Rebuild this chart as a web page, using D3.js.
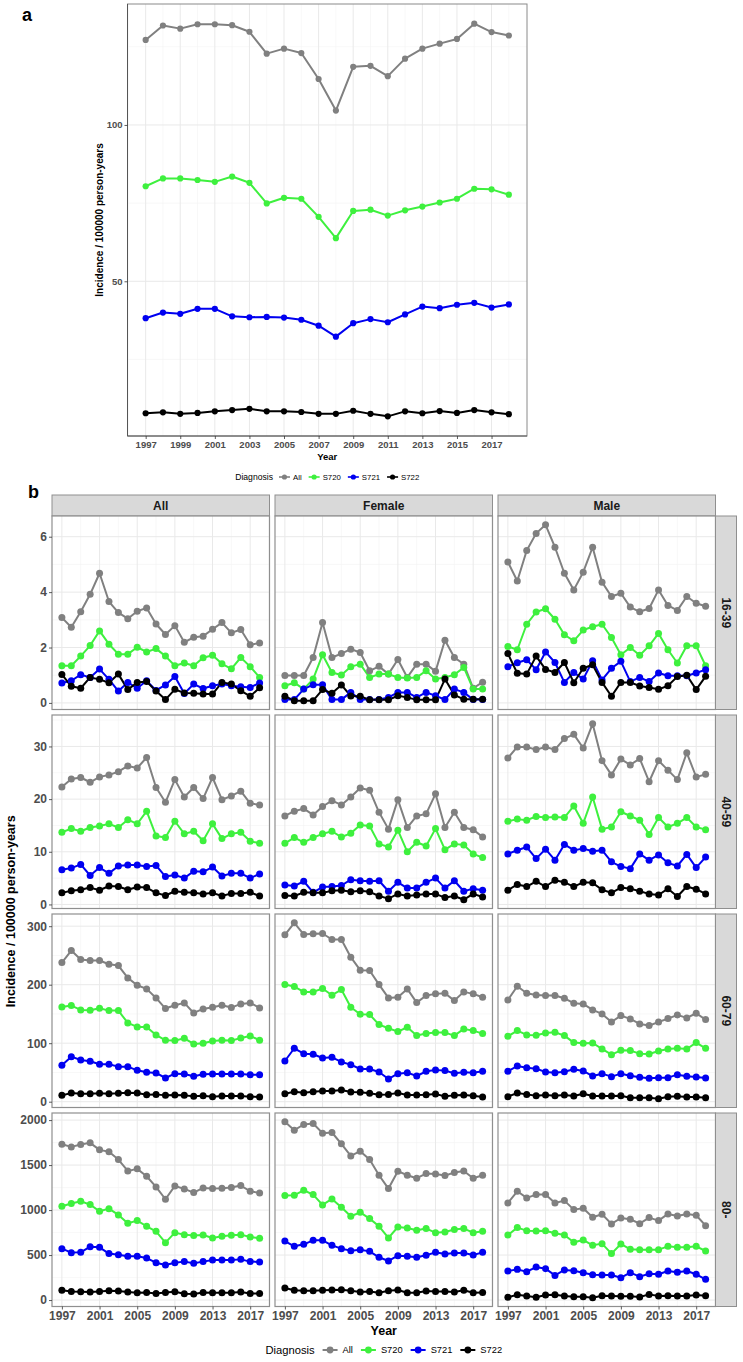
<!DOCTYPE html>
<html>
<head>
<meta charset="utf-8">
<script src="https://cdn.jsdelivr.net/npm/d3@7"></script>
<style>
body{margin:0;background:#fff}
svg{display:block}
</style>
</head>
<body>
<svg id="chart" width="743" height="1362"></svg>
<script>
var FONT = "'Liberation Sans', Arial, Helvetica, sans-serif";

// categories
var years = [1997,1998,1999,2000,2001,2002,2003,2004,2005,2006,2007,2008,2009,2010,2011,2012,2013,2014,2015,2016,2017,2018];
var diagnoses = ["All","S720","S721","S722"];
var sexes = ["All","Female","Male"];
var ageGroups = ["16-39","40-59","60-79","80-"];

// panel a: all ages
var overallAll  = [127.2,131.8,130.8,132.2,132.2,131.9,129.8,122.8,124.4,123.0,114.7,104.6,118.6,118.9,115.6,121.2,124.4,126.0,127.5,132.4,129.7,128.6];
var overallS720 = [80.4,82.9,82.9,82.4,81.8,83.5,81.5,74.9,76.7,76.4,70.6,63.8,72.5,72.9,71.0,72.7,73.9,75.2,76.4,79.6,79.4,77.7];
var overallS721 = [38.2,40.0,39.6,41.2,41.2,38.8,38.5,38.6,38.4,37.7,35.8,32.3,36.6,37.9,36.9,39.4,41.9,41.4,42.5,43.1,41.6,42.6];
var overallS722 = [7.8,8.1,7.6,7.9,8.4,8.8,9.2,8.4,8.4,8.2,7.6,7.6,8.6,7.6,6.8,8.4,7.8,8.5,7.9,8.8,8.1,7.5];

// panel b: rows are All, S720, S721, S722
var age16_39_all = [
  [3.08,2.73,3.29,3.92,4.68,3.66,3.26,3.04,3.31,3.43,2.85,2.47,2.79,2.19,2.37,2.41,2.66,2.90,2.53,2.65,2.10,2.16],
  [1.34,1.34,1.69,2.07,2.60,2.12,1.76,1.76,2.01,1.84,1.96,1.69,1.34,1.44,1.34,1.63,1.72,1.41,1.23,1.64,1.31,0.92],
  [0.72,0.80,1.02,0.92,1.22,0.85,0.43,0.74,0.53,0.80,0.45,0.65,0.95,0.34,0.68,0.52,0.62,0.68,0.62,0.58,0.56,0.72],
  [1.03,0.60,0.53,0.92,0.85,0.73,1.04,0.48,0.74,0.77,0.43,0.12,0.49,0.36,0.35,0.32,0.32,0.74,0.68,0.44,0.24,0.55]];
var age16_39_female = [
  [0.99,0.99,0.99,1.64,2.90,1.64,1.78,1.94,1.82,1.16,1.32,1.04,1.57,0.92,1.40,1.40,1.14,2.26,1.64,1.40,0.53,0.75],
  [0.62,0.73,0.50,0.86,1.74,1.10,1.01,1.31,1.40,0.92,1.04,1.04,0.92,0.90,0.92,1.16,0.86,0.92,1.02,1.28,0.50,0.50],
  [0.12,0.12,0.50,0.66,0.66,0.12,0.12,0.38,0.12,0.12,0.12,0.20,0.38,0.38,0.20,0.38,0.26,0.12,0.50,0.38,0.12,0.12],
  [0.24,0.08,0.08,0.08,0.48,0.35,0.65,0.25,0.24,0.11,0.11,0.11,0.26,0.20,0.11,0.11,0.11,0.86,0.29,0.13,0.13,0.13]];
var age16_39_male = [
  [5.09,4.40,5.50,6.12,6.43,5.62,4.68,4.08,4.72,5.62,4.36,3.84,3.96,3.46,3.29,3.41,4.08,3.52,3.34,3.84,3.60,3.49],
  [2.04,1.92,2.84,3.28,3.40,3.02,2.46,2.24,2.63,2.75,2.84,2.36,1.74,2.00,1.72,2.06,2.51,1.92,1.44,2.06,2.06,1.34],
  [1.31,1.45,1.56,1.20,1.84,1.46,0.74,1.10,0.86,1.52,0.83,1.25,1.50,0.77,0.92,0.77,1.08,0.98,0.98,0.98,1.08,1.20],
  [1.78,1.07,1.04,1.69,1.21,1.10,1.46,0.73,1.25,1.38,0.74,0.24,0.74,0.74,0.61,0.56,0.49,0.62,0.95,1.00,0.48,0.96]];

var age40_59_all = [
  [22.3,23.8,24.1,23.2,24.2,24.6,25.2,26.3,25.9,27.9,22.2,19.4,23.7,20.4,22.2,20.1,24.1,19.9,20.6,21.5,19.2,18.9],
  [13.7,14.4,13.9,14.6,14.9,15.3,14.6,16.1,15.3,17.7,13.0,12.7,15.8,13.4,13.9,12.1,15.3,12.5,13.4,13.7,12.0,11.6],
  [6.6,6.9,7.6,5.5,7.0,5.9,7.3,7.5,7.5,7.2,7.4,5.3,5.6,5.0,6.3,6.2,7.1,5.4,5.9,5.9,5.0,5.8],
  [2.2,2.6,2.8,3.2,2.7,3.5,3.4,2.8,3.3,3.2,2.2,1.7,2.5,2.3,2.2,2.0,2.2,1.6,2.1,2.1,2.3,1.6]];
var age40_59_female = [
  [16.8,17.7,18.2,17.0,18.6,19.7,18.9,20.4,22.1,21.7,17.5,14.3,19.9,14.6,16.8,17.2,21.0,14.6,17.5,14.6,14.2,12.8],
  [11.6,12.7,11.8,12.7,13.4,13.9,12.8,13.5,15.1,14.9,11.5,10.9,14.1,10.0,11.8,11.1,14.4,10.4,11.5,11.3,9.6,8.9],
  [3.7,3.5,4.4,2.3,3.3,3.4,3.6,4.7,4.5,4.4,4.5,2.5,4.2,3.1,3.1,4.2,5.0,3.1,4.5,2.5,3.0,2.7],
  [1.7,1.6,2.3,2.2,2.2,2.6,2.7,2.4,2.6,2.4,1.6,1.1,2.0,1.6,1.8,2.0,2.0,1.3,1.6,0.9,2.0,1.4]];
var age40_59_male = [
  [27.8,29.9,29.9,29.4,29.9,29.4,31.5,32.3,29.7,34.3,27.3,24.6,27.6,26.5,27.7,23.3,27.3,25.5,23.7,28.8,24.2,24.7],
  [15.8,16.2,16.0,16.7,16.5,16.6,16.5,18.7,15.4,20.4,14.3,14.7,17.6,16.8,16.0,13.3,16.5,14.7,15.4,16.5,14.7,14.2],
  [9.6,10.3,10.9,8.7,10.5,8.4,11.4,10.3,10.6,10.1,10.3,8.1,7.2,6.8,9.6,8.4,9.4,7.9,7.3,9.5,7.0,9.0],
  [2.7,3.8,3.4,4.4,3.4,4.6,4.2,3.4,4.2,4.1,2.8,2.2,3.2,3.0,2.5,2.0,1.8,3.0,1.5,3.4,2.9,2.0]];

var age60_79_all = [
  [237.9,258.4,243,241.3,241.3,235,232.7,211.6,199,192.8,177.4,159.2,164.9,168.9,151.7,158.6,161.4,164.9,160.9,167.1,168.9,160.3],
  [162,164.3,156.9,156.3,159.7,155.7,155.7,134.6,127.8,127.8,114.1,105,104.4,108.4,98.7,99.8,103.8,105,104.4,109,112.4,105],
  [62.2,77,71.3,69,63.9,63.9,59.9,59.9,53.6,50.2,49.1,40.5,47.9,47.3,43.4,46.8,47.3,47.3,47.3,47.3,46.2,46.2],
  [10.8,14.8,13.7,13.7,14.3,13.7,14.3,15.4,14.8,12,12.5,10.8,11.4,10.8,9.1,10.3,8.6,9.7,9.7,9.7,8.6,8]];
var age60_79_female = [
  [285.2,305.8,285.8,286.9,287.5,277.2,277.2,247,224.8,224.2,200.2,177.4,178.6,192.8,169.4,181.4,184.3,185.4,172.8,187.7,184.3,178.6],
  [200.2,196.8,187.7,187.7,193.4,182,191.7,161.4,149.5,148.9,131.8,125.5,119.8,127.2,113,116.4,118.1,118.1,113,124.4,121.5,116.4],
  [69.6,91.3,82.1,81,74.7,75.9,67.9,63.3,55.9,55.9,50.8,38.8,47.9,49.6,43.9,51.9,54.2,53.1,48.5,50.2,49.6,51.9],
  [13.7,17.1,15.4,17.1,18.3,18.3,20,16.5,16,14.3,12,12.5,14.8,11.4,11.4,12,13.1,9.1,10.8,11.4,10.3,8]];
var age60_79_male = [
  [174,197.4,185.4,182.5,181.4,181.4,176.8,168.3,167.1,156.9,150,136.3,147.2,141.5,132.9,130.1,136.3,142,148.3,143.2,151.2,140.3],
  [111.8,121.5,114.1,113.5,117.5,118.7,113,101,99.8,100.4,90.1,80.4,87.8,87.3,82.1,81.6,86.7,90.1,91.3,90.1,101,91.3],
  [51.9,61,58.2,56.5,50.8,49.6,51.3,55.3,52.5,43.9,47.9,42.8,47.9,44.5,41.6,39.9,41.1,41.1,46.2,43.4,42.2,40.5],
  [8.6,14.8,12.5,10.3,11.4,10.3,11.4,9.7,13.7,9.7,9.7,9.7,10.3,6.8,6.8,6.8,5.1,8.6,9.1,8,8,6.8]];

var age80_all = [
  [1732,1702,1728,1747,1669,1647,1561,1435,1458,1376,1257,1120,1268,1235,1194,1246,1239,1243,1250,1272,1209,1191],
  [1042,1072,1098,1061,987,1016,946,853,883,820,764,638,749,727,716,723,690,708,720,727,701,686],
  [571,527,530,593,586,516,504,486,486,467,415,389,415,427,408,427,445,445,445,452,427,423],
  [108,96,93,89,96,104,100,89,82,85,74,85,93,70,67,85,82,82,82,89,74,74]];
var age80_female = [
  [1981,1888,1951,1962,1855,1862,1736,1602,1654,1561,1387,1239,1432,1387,1354,1406,1402,1383,1417,1435,1354,1387],
  [1161,1165,1220,1172,1057,1124,1031,931,975,905,820,690,812,801,775,794,749,757,783,794,749,764],
  [656,597,619,664,664,608,571,549,560,541,475,434,493,486,475,497,530,512,523,523,501,530],
  [134,108,104,104,108,111,115,104,89,96,82,104,111,82,82,100,96,96,89,108,82,85]];
var age80_male = [
  [1079,1209,1135,1172,1172,1079,1105,1005,1020,920,953,846,912,898,849,916,883,957,935,957,942,827],
  [723,805,771,768,771,742,723,642,668,608,627,516,623,564,560,560,560,597,586,586,597,545],
  [323,341,315,367,349,274,334,326,304,282,278,278,248,304,260,293,286,323,308,323,286,230],
  [30,59,45,30,56,59,45,37,37,26,48,45,41,41,33,63,45,48,45,45,56,48]];

// tick labels
var ticksAx = [1997,1999,2001,2003,2005,2007,2009,2011,2013,2015,2017];
var ticksAy = [50,100];
var ticksBx = [1997,2001,2005,2009,2013,2017];
var ticksBy = [[0,2,4,6],[0,10,20,30],[0,100,200,300],[0,500,1000,1500,2000]];

// styles
var colours = ["#808080","#3ef03e","#0000f0","#000000"];

// table built from the arrays above
var overall = [overallAll, overallS720, overallS721, overallS722];
var facetRows = [
  [age16_39_all, age16_39_female, age16_39_male],
  [age40_59_all, age40_59_female, age40_59_male],
  [age60_79_all, age60_79_female, age60_79_male],
  [age80_all, age80_female, age80_male]];

var svg = d3.select("#chart");
var fmt = d3.format("d");

function expand(lo, hi){ var p=(hi-lo)*0.05; return [lo-p, hi+p]; }

function minorOf(ticks, dom){
  var step = ticks[1]-ticks[0], out = [];
  for (var v = ticks[0]-step/2; v <= dom[1]; v += step) if (v >= dom[0]) out.push(v);
  return out;
}

function styleAxis(g, size){
  g.select(".domain").remove();
  g.selectAll(".tick line").attr("stroke","#333").attr("stroke-width",0.8);
  g.selectAll(".tick text").attr("fill","#4d4d4d").style("font-weight","bold")
   .style("font-size", size+"px").style("font-family", FONT);
}

// gridlines + lines + points + border for one panel
function drawPanel(g, x, y, rows, xt, yt, lw, r, borderCol, bw){
  var x0 = x.range()[0], x1 = x.range()[1], y0 = y.range()[0], y1 = y.range()[1];
  g.append("rect").attr("x",x0).attr("y",y1).attr("width",x1-x0).attr("height",y0-y1).attr("fill","#fff");
  var grid = g.append("g");
  grid.selectAll(".ymin").data(minorOf(yt, y.domain())).enter().append("line")
    .attr("x1",x0).attr("x2",x1).attr("y1",d=>y(d)).attr("y2",d=>y(d))
    .attr("stroke","#f4f4f4").attr("stroke-width",0.6);
  grid.selectAll(".xmin").data(minorOf(xt, x.domain())).enter().append("line")
    .attr("y1",y0).attr("y2",y1).attr("x1",d=>x(d)).attr("x2",d=>x(d))
    .attr("stroke","#f4f4f4").attr("stroke-width",0.6);
  grid.selectAll(".ymaj").data(yt).enter().append("line")
    .attr("x1",x0).attr("x2",x1).attr("y1",d=>y(d)).attr("y2",d=>y(d))
    .attr("stroke","#e9e9e9").attr("stroke-width",1);
  grid.selectAll(".xmaj").data(xt).enter().append("line")
    .attr("y1",y0).attr("y2",y1).attr("x1",d=>x(d)).attr("x2",d=>x(d))
    .attr("stroke","#e9e9e9").attr("stroke-width",1);

  var line = d3.line().x((d,i)=>x(years[i])).y(d=>y(d));
  g.append("g").selectAll("path").data(rows).enter().append("path")
    .attr("d", line).attr("fill","none")
    .attr("stroke",(d,i)=>colours[i]).attr("stroke-width",lw).attr("stroke-linejoin","round");
  rows.forEach(function(vals, k){
    g.append("g").selectAll("circle").data(vals).enter().append("circle")
      .attr("cx",(d,i)=>x(years[i])).attr("cy",d=>y(d)).attr("r",r).attr("fill",colours[k]);
  });
  g.append("rect").attr("x",x0).attr("y",y1).attr("width",x1-x0).attr("height",y0-y1)
    .attr("fill","none").attr("stroke",borderCol).attr("stroke-width",bw);
}

function legend(cx, cy, titleSize, labelSize, keyW, r, lw, gaps){
  var g = svg.append("g");
  var t = g.append("text").attr("y",cy).attr("dy","0.35em").style("font-family",FONT)
    .style("font-size",titleSize+"px").attr("fill","#000").text("Diagnosis");
  var pos = t.node().getComputedTextLength() + gaps[0];
  diagnoses.forEach(function(name, i){
    g.append("line").attr("x1",pos).attr("x2",pos+keyW).attr("y1",cy).attr("y2",cy)
      .attr("stroke",colours[i]).attr("stroke-width",lw);
    g.append("circle").attr("cx",pos+keyW/2).attr("cy",cy).attr("r",r).attr("fill",colours[i]);
    pos += keyW + gaps[1];
    var lt = g.append("text").attr("x",pos).attr("y",cy).attr("dy","0.35em").style("font-family",FONT)
      .style("font-size",labelSize+"px").attr("fill","#000").text(name);
    pos += lt.node().getComputedTextLength() + (i < diagnoses.length-1 ? gaps[2] : 0);
  });
  g.attr("transform","translate(" + (cx - pos/2) + ",0)");
}

// ---------------- panel a ----------------
var aL = 127.5, aR = 527, aT = 4, aB = 436;
var allA = d3.merge(overall);
var xa = d3.scaleLinear().domain(expand(years[0], years[years.length-1])).range([aL, aR]);
var ya = d3.scaleLinear().domain(expand(d3.min(allA), d3.max(allA))).range([aB, aT]);
var ga = svg.append("g");
drawPanel(ga, xa, ya, overall, ticksAx, ticksAy, 2, 3.1, "#8a8a8a", 1);
ga.append("line").attr("x1",aL).attr("x2",aL).attr("y1",aT).attr("y2",aB).attr("stroke","#555").attr("stroke-width",1);
ga.append("line").attr("x1",aL).attr("x2",aR).attr("y1",aB).attr("y2",aB).attr("stroke","#555").attr("stroke-width",1);

ga.append("g").attr("transform","translate("+aL+",0)")
  .call(d3.axisLeft(ya).tickValues(ticksAy).tickFormat(fmt).tickSize(3).tickPadding(2))
  .call(g => styleAxis(g, 9.5));
ga.append("g").attr("transform","translate(0,"+aB+")")
  .call(d3.axisBottom(xa).tickValues(ticksAx).tickFormat(fmt).tickSize(3).tickPadding(2))
  .call(g => styleAxis(g, 9.5));

svg.append("text").attr("x",(aL+aR)/2).attr("y",460).attr("text-anchor","middle")
  .style("font-family",FONT).style("font-weight","bold").style("font-size","9.5px").text("Year");
svg.append("text").attr("transform","translate(103,"+((aT+aB)/2)+") rotate(-90)")
  .attr("text-anchor","middle").style("font-family",FONT).style("font-weight","bold")
  .style("font-size","10px").text("Incidence / 100000 person-years");
legend((aL+aR)/2, 477, 8.6, 7.8, 11, 2.6, 1.6, [6, 3, 7]);

svg.append("text").attr("x",22).attr("y",21).style("font-family",FONT).style("font-weight","bold")
  .style("font-size","18px").text("a");

// ---------------- panel b ----------------
svg.append("text").attr("x",28).attr("y",498).style("font-family",FONT).style("font-weight","bold")
  .style("font-size","18px").text("b");

var colW = 217.5, rowH = 193.5, gap = 5.5, bLeft = 52, bTop = 516, stripH = 21;
var colLeft = sexes.map((s,i) => bLeft + i*(colW+gap));
var rowTop = ageGroups.map((a,j) => bTop + j*(rowH+gap));
var bRight = colLeft[2] + colW;

sexes.forEach(function(s, i){
  svg.append("rect").attr("x",colLeft[i]).attr("y",bTop-stripH).attr("width",colW).attr("height",stripH)
    .attr("fill","#d9d9d9").attr("stroke","#8f8f8f").attr("stroke-width",1);
  svg.append("text").attr("x",colLeft[i]+colW/2).attr("y",bTop-stripH/2).attr("dy","0.36em")
    .attr("text-anchor","middle").style("font-family",FONT).style("font-weight","bold")
    .style("font-size","12px").attr("fill","#1a1a1a").text(s);
});

facetRows.forEach(function(row, j){
  var vals = d3.merge(row.map(p => d3.merge(p)));
  var y = d3.scaleLinear().domain(expand(d3.min(vals), d3.max(vals))).range([rowTop[j]+rowH, rowTop[j]]);
  row.forEach(function(series, i){
    var x = d3.scaleLinear().domain(expand(years[0], years[years.length-1])).range([colLeft[i], colLeft[i]+colW]);
    var g = svg.append("g");
    drawPanel(g, x, y, series, ticksBx, ticksBy[j], 2, 3.5, "#8f8f8f", 1.2);
    if (j === ageGroups.length-1) {
      g.append("g").attr("transform","translate(0,"+(rowTop[j]+rowH)+")")
        .call(d3.axisBottom(x).tickValues(ticksBx).tickFormat(fmt).tickSize(3).tickPadding(2))
        .call(a => styleAxis(a, 12));
    }
  });
  svg.append("g").attr("transform","translate("+bLeft+",0)")
    .call(d3.axisLeft(y).tickValues(ticksBy[j]).tickFormat(fmt).tickSize(3).tickPadding(2))
    .call(a => styleAxis(a, 12));
  svg.append("rect").attr("x",bRight).attr("y",rowTop[j]).attr("width",stripH).attr("height",rowH)
    .attr("fill","#d9d9d9").attr("stroke","#8f8f8f").attr("stroke-width",1);
  svg.append("text").attr("transform","translate("+(bRight+stripH/2)+","+(rowTop[j]+rowH/2)+") rotate(90)")
    .attr("dy","0.36em").attr("text-anchor","middle").style("font-family",FONT).style("font-weight","bold")
    .style("font-size","12px").attr("fill","#1a1a1a").text(ageGroups[j]);
});

var bBottom = rowTop[3] + rowH;
svg.append("text").attr("x",(bLeft+bRight)/2).attr("y",1335).attr("text-anchor","middle")
  .style("font-family",FONT).style("font-weight","bold").style("font-size","12.5px").text("Year");
svg.append("text").attr("transform","translate(15,"+((bTop+bBottom)/2)+") rotate(-90)")
  .attr("text-anchor","middle").style("font-family",FONT).style("font-weight","bold")
  .style("font-size","12.5px").text("Incidence / 100000 person-years");
legend((bLeft+bRight)/2, 1350, 11.2, 9.3, 15, 3.4, 2, [8, 5, 8]);
</script>
</body>
</html>
